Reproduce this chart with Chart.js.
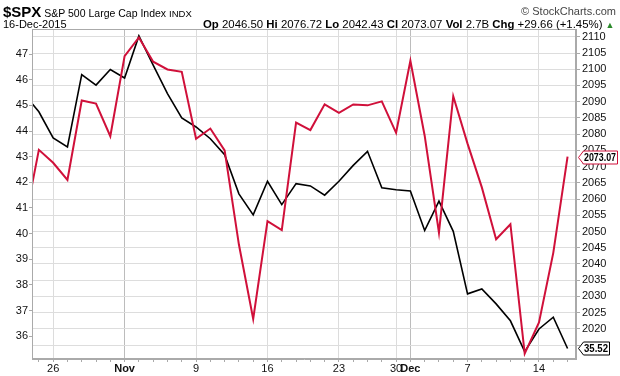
<!DOCTYPE html>
<html>
<head>
<meta charset="utf-8">
<script src="https://cdn.jsdelivr.net/npm/chart.js@4.4.1/dist/chart.umd.min.js"></script>
<style>
  body { margin: 0; background: #fff; font-family: Arial, "Liberation Sans", sans-serif; color: #000; }
  #wrap { position: relative; width: 620px; height: 376px; }
  canvas { position: absolute; left: 0; top: 0; }
  .t { position: absolute; white-space: nowrap; }
  .row1 { left: 3px; top: 3px; font-size: 10.5px; }
  .row1 b { font-size: 15px; }
  .sc { right: 4px; top: 5px; font-size: 11px; color: #444; }
  .row2 { top: 18px; font-size: 11px; }
  .ohlc { font-size: 11.4px; }
  .up { color: #2a8a2a; font-size: 9px; }
</style>
</head>
<body>
<div id="wrap">
  <canvas id="grafico" width="620" height="376"></canvas>
  <div class="t row1"><b>$SPX</b> S&amp;P 500 Large Cap Index <span style="font-size:9.5px">INDX</span></div>
  <div class="t sc">© StockCharts.com</div>
  <div class="t row2" style="left:3px">16-Dec-2015</div>
  <div class="t row2 ohlc" style="left:203px"><b>Op</b> 2046.50 <b>Hi</b> 2076.72 <b>Lo</b> 2042.43 <b>Cl</b> 2073.07 <b>Vol</b> 2.7B <b>Chg</b> +29.66 (+1.45%) <span class="up">▲</span></div>
</div>
<script>
// dias de pregão (índice = posição no eixo x)
const datas = ['22-Oct','23-Oct','26-Oct','27-Oct','28-Oct','29-Oct','30-Oct',
  '2-Nov','3-Nov','4-Nov','5-Nov','6-Nov','9-Nov','10-Nov','11-Nov','12-Nov','13-Nov',
  '16-Nov','17-Nov','18-Nov','19-Nov','20-Nov','23-Nov','24-Nov','25-Nov','27-Nov','30-Nov',
  '1-Dec','2-Dec','3-Dec','4-Dec','7-Dec','8-Dec','9-Dec','10-Dec','11-Dec','14-Dec','15-Dec','16-Dec'];

// $SPX (eixo da direita)
const spx = [2052.51, 2075.15, 2071.18, 2065.89, 2090.35, 2089.41, 2079.36,
  2104.05, 2109.79, 2102.31, 2099.93, 2099.20, 2078.58, 2081.72, 2075.00, 2045.97, 2023.04,
  2053.19, 2050.44, 2083.58, 2081.24, 2089.17, 2086.59, 2089.14, 2088.87, 2090.11, 2080.41,
  2102.63, 2079.51, 2049.62, 2091.69, 2077.07, 2063.59, 2047.62, 2052.23, 2012.37, 2021.94, 2043.41, 2073.07];

// série preta (eixo da esquerda)
const outra = [45.42, 44.75, 43.73, 43.38, 46.20, 45.79, 46.40,
  46.07, 47.71, 46.57, 45.46, 44.51, 44.16, 43.70, 43.08, 41.55, 40.73,
  42.04, 41.13, 41.95, 41.86, 41.50, 42.04, 42.66, 43.21, 41.79, 41.71,
  41.66, 40.12, 41.27, 40.09, 37.65, 37.84, 37.26, 36.60, 35.40, 36.28, 36.74, 35.52];

// rótulos do eixo x
const posRotulos = [2, 7, 12, 17, 22, 26, 27, 31, 36];
const textoRotulos = ['26', 'Nov', '9', '16', '23', '30', 'Dec', '7', '14'];
const meses = ['Nov', 'Dec'];

// ticks dos eixos y (2015 fica escondido atrás da caixa do último valor)
const ticksEsq = [36, 37, 38, 39, 40, 41, 42, 43, 44, 45, 46, 47];
const ticksDir = [];
for (let v = 2015; v <= 2110; v += 5) ticksDir.push(v);
const rotulosDirOcultos = [2015];

const vermelho = '#d0103a';
const fonte = 'Arial, "Liberation Sans"';

function rotuloDe(v) {
  const k = posRotulos.indexOf(v);
  return k >= 0 ? textoRotulos[k] : '';
}

// moldura e caixas do último valor
const molduraPlugin = {
  id: 'moldura',
  afterDatasetsDraw(chart) {
    const { ctx, chartArea: a } = chart;
    ctx.save();
    ctx.strokeStyle = '#aaaaaa';
    ctx.lineWidth = 1;
    ctx.strokeRect(Math.round(a.left) + 0.5, Math.round(a.top) + 0.5,
      Math.round(a.right - a.left) - 1, Math.round(a.bottom - a.top) - 1);

    const caixa = (y, texto, cor, largura) => {
      const x0 = a.right + 2.5, h = 13;
      y = Math.round(y) + 0.5;
      ctx.beginPath();
      ctx.moveTo(x0, y);
      ctx.lineTo(x0 + 5, y - h / 2);
      ctx.lineTo(x0 + largura, y - h / 2);
      ctx.lineTo(x0 + largura, y + h / 2);
      ctx.lineTo(x0 + 5, y + h / 2);
      ctx.closePath();
      ctx.fillStyle = '#fff';
      ctx.fill();
      ctx.strokeStyle = cor;
      ctx.stroke();
      ctx.fillStyle = '#000';
      ctx.font = 'bold 11px ' + fonte;
      ctx.textBaseline = 'middle';
      ctx.fillText(texto, x0 + 5.5, y + 0.5, largura - 7);
    };
    const n = spx.length - 1;
    caixa(chart.scales.yDir.getPixelForValue(spx[n]), spx[n].toFixed(2), vermelho, 39);
    caixa(chart.scales.yEsq.getPixelForValue(outra[n]), outra[n].toFixed(2), '#000', 31);
    ctx.restore();
  }
};

const contexto = document.getElementById('grafico').getContext('2d');
const grafico = new Chart(contexto, {
  type: 'line',
  data: {
    datasets: [{
      label: 'preto',
      data: outra.map((v, i) => ({ x: i, y: v })),
      yAxisID: 'yEsq',
      borderColor: '#000',
      borderWidth: 1.6,
      pointRadius: 0,
      tension: 0,
      order: 2
    }, {
      label: '$SPX',
      data: spx.map((v, i) => ({ x: i, y: v })),
      yAxisID: 'yDir',
      borderColor: vermelho,
      borderWidth: 2,
      pointRadius: 0,
      tension: 0,
      order: 1
    }]
  },
  options: {
    responsive: false,
    devicePixelRatio: 1,
    animation: false,
    layout: { padding: { top: 29, left: 0, right: 0, bottom: 0 } },
    plugins: { legend: { display: false }, tooltip: { enabled: false } },
    scales: {
      x: {
        type: 'linear',
        min: 0.52,
        max: 38.59,
        afterBuildTicks: s => { s.ticks = datas.map((d, i) => ({ value: i })).filter(t => t.value >= 1); },
        afterFit: s => { s.height = 17; },
        border: { color: '#aaaaaa' },
        grid: {
          color: c => {
            const r = c.tick ? rotuloDe(c.tick.value) : '';
            if (!r) return 'rgba(0,0,0,0)';
            return meses.includes(r) ? '#bcbcbc' : '#dcdcdc';
          },
          tickColor: '#aaaaaa',
          tickLength: 3
        },
        ticks: {
          autoSkip: false,
          maxRotation: 0,
          padding: 0,
          color: '#111',
          font: c => ({ family: fonte, size: 11,
            weight: (c.tick && meses.includes(rotuloDe(c.tick.value))) ? 'bold' : 'normal' }),
          callback: v => rotuloDe(v)
        }
      },
      yEsq: {
        position: 'left',
        min: 35.11,
        max: 47.98,
        afterBuildTicks: s => { s.ticks = ticksEsq.map(v => ({ value: v })); },
        afterFit: s => { s.width = 32; },
        border: { color: '#aaaaaa' },
        grid: { drawOnChartArea: false, color: '#aaaaaa', tickLength: 3 },
        ticks: { padding: 1, color: '#111', font: { family: fonte, size: 11 }, callback: v => String(v) }
      },
      yDir: {
        position: 'right',
        min: 2010.7,
        max: 2112.4,
        afterBuildTicks: s => { s.ticks = ticksDir.map(v => ({ value: v })); },
        afterFit: s => { s.width = 44; },
        border: { color: '#aaaaaa' },
        grid: { color: '#dddddd', tickColor: '#aaaaaa', tickLength: 4 },
        ticks: { padding: 2, color: '#111', font: { family: fonte, size: 11 },
          callback: v => rotulosDirOcultos.includes(v) ? '' : String(v) }
      }
    }
  },
  plugins: [molduraPlugin]
});
</script>
</body>
</html>
